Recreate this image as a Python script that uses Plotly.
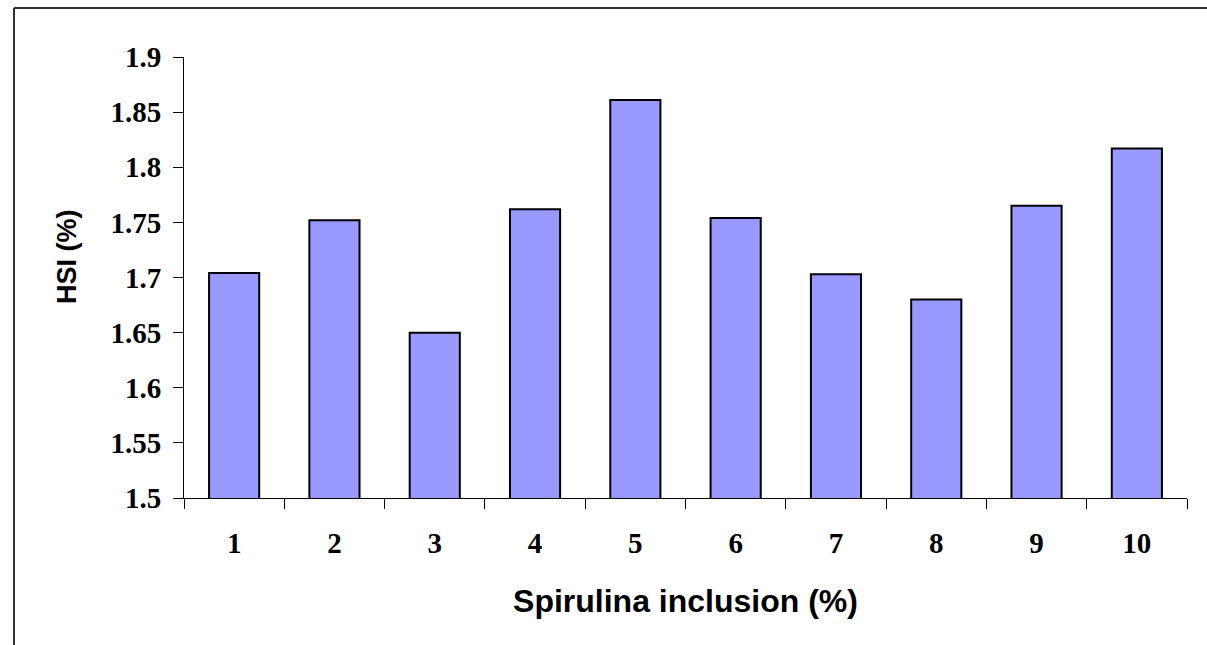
import plotly.graph_objects as go

categories = ["1", "2", "3", "4", "5", "6", "7", "8", "9", "10"]
hsi_values = [1.704, 1.752, 1.650, 1.762, 1.861, 1.754, 1.703, 1.680, 1.765, 1.817]
y_tick_values = [1.5, 1.55, 1.6, 1.65, 1.7, 1.75, 1.8, 1.85, 1.9]
y_tick_labels = ["1.5", "1.55", "1.6", "1.65", "1.7", "1.75", "1.8", "1.85", "1.9"]

W, H = 1207, 645
ML, MR, MT, MB = 184, 20, 57, 147
PW, PH = W - ML - MR, H - MT - MB


def px_x(p):
    return (p - ML) / PW


def px_y(p):
    return (H - MB - p) / PH


fig = go.Figure(
    go.Bar(
        x=categories,
        y=hsi_values,
        marker=dict(color="#9999FF", line=dict(color="#000000", width=2)),
        width=0.5,
    )
)

serif = "Liberation Serif, Times New Roman, serif"
sans = "Liberation Sans, Arial, sans-serif"

border = dict(color="#333333", width=2)

fig.update_layout(
    width=W,
    height=H,
    margin=dict(l=ML, r=MR, t=MT, b=MB, pad=0),
    paper_bgcolor="white",
    plot_bgcolor="white",
    showlegend=False,
    xaxis=dict(
        type="category",
        showline=True,
        linecolor="#000000",
        linewidth=1,
        ticks="outside",
        tickson="boundaries",
        ticklen=10,
        tickcolor="#000000",
        tickwidth=1,
        showgrid=False,
        ticklabelstandoff=19,
        tickfont=dict(family=serif, size=29, color="black", weight="bold"),
        title=dict(
            text="<b>Spirulina inclusion (%)</b>",
            font=dict(family=sans, size=32, color="black"),
            standoff=31,
        ),
    ),
    yaxis=dict(
        range=[1.5, 1.9],
        tickvals=y_tick_values,
        ticktext=y_tick_labels,
        showline=True,
        linecolor="#000000",
        linewidth=1,
        ticks="outside",
        ticklen=10,
        tickcolor="#000000",
        tickwidth=1,
        showgrid=False,
        zeroline=False,
        ticklabelstandoff=6,
        tickfont=dict(family=serif, size=29, color="black", weight="bold"),
    ),
    annotations=[
        dict(
            text="<b>HSI (%)</b>",
            textangle=-90,
            xref="paper",
            yref="paper",
            x=px_x(67),
            y=px_y(257),
            xanchor="center",
            yanchor="middle",
            showarrow=False,
            font=dict(family=sans, size=27, color="black"),
        )
    ],
    shapes=[
        dict(type="line", xref="paper", yref="paper",
             x0=px_x(14), x1=px_x(W), y0=px_y(8), y1=px_y(8), line=border),
        dict(type="line", xref="paper", yref="paper",
             x0=px_x(14), x1=px_x(14), y0=px_y(8), y1=px_y(H), line=border),
    ],
)

fig.write_html(
    "out.html",
    post_script="document.body.style.margin='0';document.body.style.overflow='hidden';",
)
